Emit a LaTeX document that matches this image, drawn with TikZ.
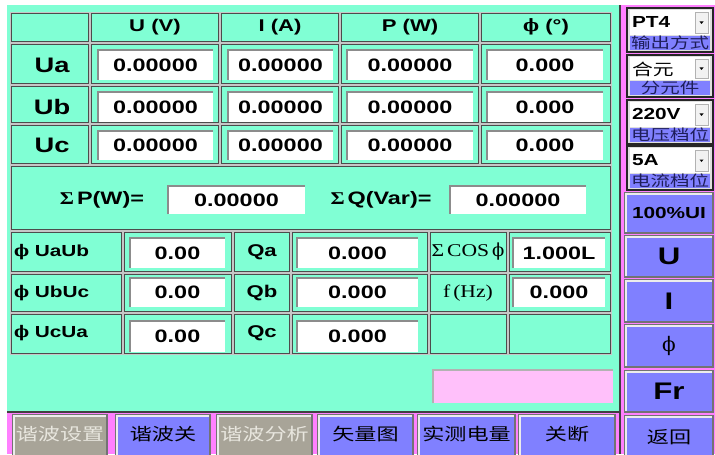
\documentclass[tikz,border=0pt]{standalone}
\usepackage{fontspec}
\usepackage{xcolor}
\newfontfamily\uifont{Liberation Sans}[FakeStretch=1.3]
\newfontfamily\serfont{Liberation Serif}[FakeStretch=1.2]
\newfontfamily\phifont{DejaVu Serif}
\newfontfamily\cjk{Noto Sans CJK SC}[FakeStretch=1.3]
\newcommand{\phisym}{{\phifont ϕ}}
\definecolor{aqua}{RGB}{128,255,212}
\definecolor{btnblue}{RGB}{128,128,255}
\definecolor{btngray}{RGB}{168,164,152}
\definecolor{graytxt}{RGB}{232,230,222}
\definecolor{panelmag}{RGB}{255,128,255}
\definecolor{pinkbox}{RGB}{255,192,250}
\definecolor{navytxt}{RGB}{30,30,90}

\begin{document}
\begin{tikzpicture}[x=0.5pt, y=-0.5pt,
  every node/.style={inner sep=0pt, outer sep=0pt},
  cell/.style={fill=aqua, draw=black!70, line width=0.5pt},
  sunk/.style={draw=black!45, line width=0.9pt},
  btn/.style={draw=black!55, line width=0.6pt},
  lite/.style={draw=white!85!gray, line width=1pt},
  valtxt/.style={font=\uifont\bfseries\fontsize{9}{11}\selectfont},
  rowtxt/.style={font=\uifont\bfseries\fontsize{10.5}{12}\selectfont},
  headtxt/.style={font=\uifont\bfseries\fontsize{8.5}{10}\selectfont},
  smalltxt/.style={font=\uifont\bfseries\fontsize{8}{10}\selectfont},
  sertxt/.style={font=\serfont\fontsize{9}{11}\selectfont},
  bigtxt/.style={font=\uifont\bfseries\fontsize{12}{14}\selectfont},
  phitxt/.style={font=\phifont\fontsize{10}{12}\selectfont},
  bartxt/.style={font=\cjk\fontsize{7.5}{9}\selectfont, text=navytxt},
  btntxt/.style={font=\cjk\fontsize{8.5}{10}\selectfont},
]
\useasboundingbox (0,0) rectangle (715,454);
\fill[white] (0,0) rectangle (715,454);

% Screen areas
\fill[aqua] (7,5) rectangle (620,412);
\fill[panelmag] (621,5) rectangle (715,454);
\fill[panelmag] (7,413) rectangle (621,454);
\draw[black!75, line width=0.8pt] (620,5) -- (620,454);
\draw[black!75, line width=0.8pt] (7,412) -- (620,412);

% Grid lines
\fill[gray!45] (10,12) rectangle (612,355);
\foreach \xa/\xb in {10/90, 90/220, 220/340, 340/480, 480/612}
  \foreach \ya/\yb in {12/43, 43/85, 85/124, 124/165}
    \draw[cell] (\xa+1.5,\ya+1.5) rectangle (\xb-1.5,\yb-1.5);
\draw[cell] (11.5,166.5) rectangle (610.5,229.5);
\foreach \xa/\xb in {10/123, 123/233, 233/291, 291/429, 429/508, 508/612}
  \foreach \ya/\yb in {231/273, 273/313, 313/355}
    \draw[cell] (\xa+1.5,\ya+1.5) rectangle (\xb-1.5,\yb-1.5);

% Headers
\node[headtxt] (hU) at (155,27) {U (V)};
\node[headtxt] (hI) at (280,27) {I (A)};
\node[headtxt] (hP) at (410,27) {P (W)};
\node[headtxt] (hF) at (546,27) {\phisym\ (°)};

% Phase values
\foreach \r/\ya/\yb in {Ua/50/80, Ub/92/122, Uc/131/160} {
  \node[rowtxt] (l\r) at (52,{(\ya+\yb)/2}) {\r};
  \foreach \c/\xa/\xb/\val in {U/98/213/0.00000, I/228/333/0.00000, P/347/473/0.00000, F/487/603/0.000} {
    \fill[white] (\xa,\ya) rectangle (\xb,\yb);
    \draw[sunk] (\xa,\yb) -- (\xa,\ya) -- (\xb,\ya);
    \node[valtxt] (v\r\c) at ({(\xa+\xb)/2},{(\ya+\yb)/2}) {\val};
  }
}

% Sums
\node[valtxt] (sumP) at (102,200) {{\serfont Σ}\,P(W)=};
\node[valtxt] (sumQ) at (381,200) {{\serfont Σ}\,Q(Var)=};
\foreach \n/\xa/\xb in {P/168/305, Q/450/586} {
  \fill[white] (\xa,186) rectangle (\xb,214);
  \draw[sunk] (\xa,214) -- (\xa,186) -- (\xb,186);
  \node[valtxt] (vsum\n) at ({(\xa+\xb)/2},200) {0.00000};
}

% Angles and reactive power
\foreach \k/\lab/\q/\ya/\yb/\ly in {1/UaUb/Qa/238/268/252, 2/UbUc/Qb/278/307/293, 3/UcUa/Qc/321/352/333} {
  \node[smalltxt, anchor=west] (ang\k) at (14,\ly) {\phisym\ \lab};
  \node[headtxt] (q\k) at (262,\ly) {\q};
  \foreach \c/\xa/\xb/\val in {a/130/225/0.00, b/297/418/0.000} {
    \fill[white] (\xa,\ya) rectangle (\xb,\yb);
    \draw[sunk] (\xa,\yb) -- (\xa,\ya) -- (\xb,\ya);
    \node[valtxt] (w\k\c) at ({(\xa+\xb)/2},{(\ya+\yb)/2}) {\val};
  }
}
\node[sertxt] (cosl) at (468,252) {Σ\,COS\,\phisym};
\node[sertxt] (frql) at (468,293) {f\,(Hz)};
\foreach \k/\ya/\yb/\val in {1/238/268/1.000L, 2/278/307/0.000} {
  \fill[white] (513,\ya) rectangle (605,\yb);
  \draw[sunk] (513,\yb) -- (513,\ya) -- (605,\ya);
  \node[valtxt] (w\k c) at (559,{(\ya+\yb)/2}) {\val};
}

% Status box
\fill[pinkbox] (433,370) rectangle (613,403);
\draw[sunk, draw=black!30] (433,403) -- (433,370) -- (613,370);

% Selectors
\foreach \ya/\yb/\sel/\lab [count=\i] in {8/52/PT4/输出方式, 55/97/{\cjk\mdseries 合元}/分元件, 100/144/220V/电压档位, 146/190/5A/电流档位} {
  \draw[black!85, line width=1pt, fill=gray!25] (627,\ya) rectangle (713,\yb);
  \fill[white] (630,\ya+2) rectangle (710,\yb-17);
  \draw[fill=gray!10, draw=gray!60] (695,\ya+4) rectangle (708,\yb-19);
  \fill (699.5,{(\ya+\yb)/2-8.5}) -- ++(4,0) -- ++(-2,2.5) -- cycle;
  \fill[btnblue] (630,\yb-16) rectangle (710,\yb-2);
  \node[smalltxt, anchor=west] (sel\i) at (632,\ya+14) {\sel};
  \node[bartxt] (bar\i) at (670,\yb-9) {\lab};
}

% Side buttons
\foreach \ya/\yb/\lab/\sty [count=\i] in {193/233/100\%UI/smalltxt, 236/277/U/bigtxt, 280/322/I/bigtxt, 325/367/\phisym/phitxt, 371/412/Fr/bigtxt, 416/458/返回/btntxt} {
  \draw[btn, fill=btnblue] (625,\ya) rectangle (713,\yb);
  \draw[lite] (626,\yb-1) -- (626,\ya+1) -- (712,\ya+1);
  \node[\sty] (side\i) at (669,{(\ya+\yb)/2}) {\lab};
}

% Bottom buttons
\foreach \xa/\xb/\lab/\bg/\fg [count=\i] in {13/107/谐波设置/btngray/graytxt, 116/210/谐波关/btnblue/black, 217/312/谐波分析/btngray/graytxt, 318/413/矢量图/btnblue/black, 418/515/实测电量/btnblue/black, 519/615/关断/btnblue/black} {
  \draw[btn, fill=\bg] (\xa,415) rectangle (\xb,458);
  \draw[lite] (\xa+1,457) -- (\xa+1,416) -- (\xb-1,416);
  \node[btntxt, text=\fg] (bot\i) at ({(\xa+\xb)/2},434) {\lab};
}
\end{tikzpicture}
\end{document}
